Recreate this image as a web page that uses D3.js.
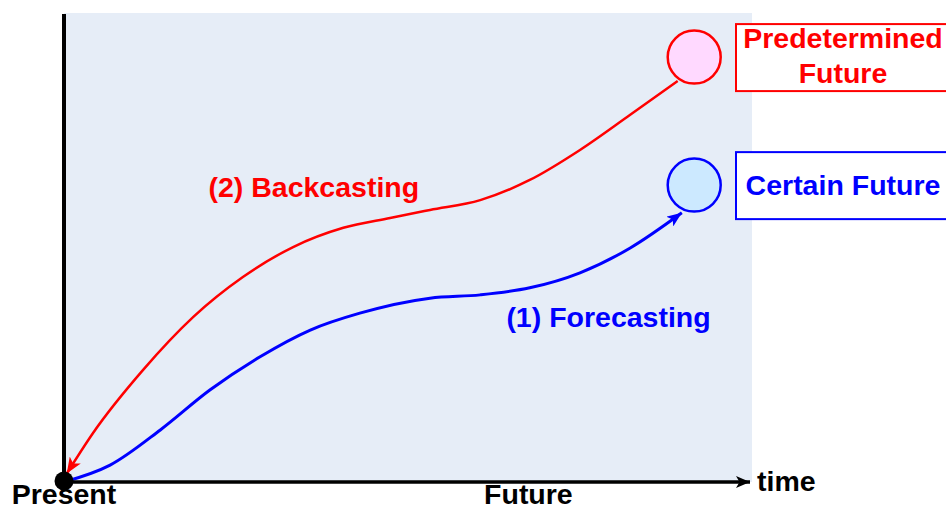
<!DOCTYPE html>
<html>
<head>
<meta charset="utf-8">
<script src="https://cdn.jsdelivr.net/npm/d3@7"></script>
<style>
  body { margin: 0; background: #fff; }
  svg { display: block; }
  text { font-family: "Liberation Sans", Arial, sans-serif; font-weight: bold; }
</style>
</head>
<body>
<div class="chart"></div>
<script>
// data: time (0..100) vs outcome (0..100)
const forecastX = [0, 6.7, 14.0, 21.2, 28.5, 35.8, 43.0, 53.2, 60.5, 67.7, 75.0, 82.3, 89.8];
const forecastY = [0, 3.6, 11.1, 19.6, 26.7, 32.4, 36.0, 39.2, 39.9, 41.4, 44.6, 49.9, 57.4];

// backcasting (drawn with its arrow pointing back to the present)
const backcastX = [0.4, 4.2, 11.5, 18.8, 26.0, 33.3, 40.6, 47.4, 53.2, 60.5, 67.7, 75.0, 82.3, 89.2];
const backcastY = [1.8, 10.4, 23.9, 35.2, 43.7, 50.1, 54.2, 56.3, 58.0, 60.1, 64.4, 70.8, 78.3, 85.5];

const futureNames = ["Predetermined Future", "Certain Future"];
const futureX = [91.6, 91.6];
const futureY = [90.6, 63.3];

const axisLabels = ["Present", "Future"];
const axisLabelX = [0, 67.5];

const width = 946, height = 511;
const margin = { top: 13, left: 64 };

const svg = d3.select(".chart").append("svg")
    .attr("width", width)
    .attr("height", height);

const x = d3.scaleLinear().domain([0, 100]).range([margin.left, 752]);
const y = d3.scaleLinear().domain([0, 100]).range([482, margin.top]);

// arrow heads
const defs = svg.append("defs");
function marker(id, color, w, h) {
    defs.append("marker")
        .attr("id", id)
        .attr("viewBox", `0 0 ${w} ${h}`)
        .attr("refX", w).attr("refY", h / 2)
        .attr("markerWidth", w).attr("markerHeight", h)
        .attr("markerUnits", "userSpaceOnUse")
        .attr("orient", "auto-start-reverse")
        .append("path")
        .attr("d", `M0,0L${w},${h / 2}L0,${h}L${w * 0.25},${h / 2}Z`)
        .attr("fill", color);
}
marker("arrow-blue", "#0000ff", 15, 12);
marker("arrow-red", "#ff0000", 16, 13);
marker("arrow-black", "#000", 14, 12);

// plot background
svg.append("rect")
    .attr("x", x(0)).attr("y", y(100))
    .attr("width", x(100) - x(0))
    .attr("height", y(0) - y(100))
    .attr("fill", "#e6edf7");

const line = d3.line()
    .x(d => x(d[0]))
    .y(d => y(d[1]))
    .curve(d3.curveMonotoneX);

svg.append("path")
    .datum(d3.zip(backcastX, backcastY))
    .attr("d", line)
    .attr("fill", "none")
    .attr("stroke", "#ff0000")
    .attr("stroke-width", 2.5)
    .attr("marker-start", "url(#arrow-red)");

svg.append("path")
    .datum(d3.zip(forecastX, forecastY))
    .attr("d", line)
    .attr("fill", "none")
    .attr("stroke", "#0000ff")
    .attr("stroke-width", 3)
    .attr("marker-end", "url(#arrow-blue)");

// axes
svg.append("line")
    .attr("x1", x(0)).attr("x2", x(0))
    .attr("y1", y(0)).attr("y2", y(100) + 1)
    .attr("stroke", "#000").attr("stroke-width", 4);

svg.append("line")
    .attr("x1", x(0)).attr("x2", x(100) - 2)
    .attr("y1", y(0)).attr("y2", y(0))
    .attr("stroke", "#000").attr("stroke-width", 3.5)
    .attr("marker-end", "url(#arrow-black)");

svg.append("circle")
    .attr("cx", x(0)).attr("cy", y(0) - 1)
    .attr("r", 9.5)
    .attr("fill", "#000");

svg.append("text")
    .attr("x", x(100) + 5).attr("y", y(0) + 9)
    .attr("font-size", 28.5)
    .text("time");

svg.selectAll(".axis-label")
    .data(axisLabels)
    .join("text")
    .attr("class", "axis-label")
    .attr("x", (d, i) => x(axisLabelX[i]))
    .attr("y", 504)
    .attr("text-anchor", "middle")
    .attr("font-size", 28.5)
    .text(d => d);

// future circles and boxes
const fillC = ["#ffd9ff", "#cce9ff"];
const strokeC = ["#ff0000", "#0000ff"];

svg.selectAll(".future")
    .data(futureNames)
    .join("circle")
    .attr("class", "future")
    .attr("cx", (d, i) => x(futureX[i]))
    .attr("cy", (d, i) => y(futureY[i]))
    .attr("r", 26.5)
    .attr("fill", (d, i) => fillC[i])
    .attr("stroke", (d, i) => strokeC[i])
    .attr("stroke-width", 2.5);

const boxes = svg.selectAll(".box")
    .data(futureNames)
    .join("g")
    .attr("class", "box")
    .attr("transform", (d, i) => `translate(736, ${y(futureY[i]) - 33})`);

boxes.append("rect")
    .attr("width", 214).attr("height", 67)
    .attr("fill", "#fff")
    .attr("stroke", (d, i) => strokeC[i])
    .attr("stroke-width", 2);

boxes.each(function (d, i) {
    const g = d3.select(this);
    const lines = i === 0 ? d.split(" ") : [d];
    const t = g.append("text")
        .attr("text-anchor", "middle")
        .attr("font-size", 28.5)
        .attr("fill", strokeC[i]);
    lines.forEach((s, k) => {
        t.append("tspan")
            .attr("x", 107)
            .attr("y", lines.length === 1 ? 43 : 24 + k * 35)
            .text(s);
    });
});

// curve labels
svg.append("text")
    .attr("x", x(21)).attr("y", y(60.8))
    .attr("font-size", 28.5)
    .attr("fill", "#ff0000")
    .text("(2) Backcasting");

svg.append("text")
    .attr("x", x(64.3)).attr("y", y(33))
    .attr("font-size", 28.5)
    .attr("fill", "#0000ff")
    .text("(1) Forecasting");
</script>
</body>
</html>
